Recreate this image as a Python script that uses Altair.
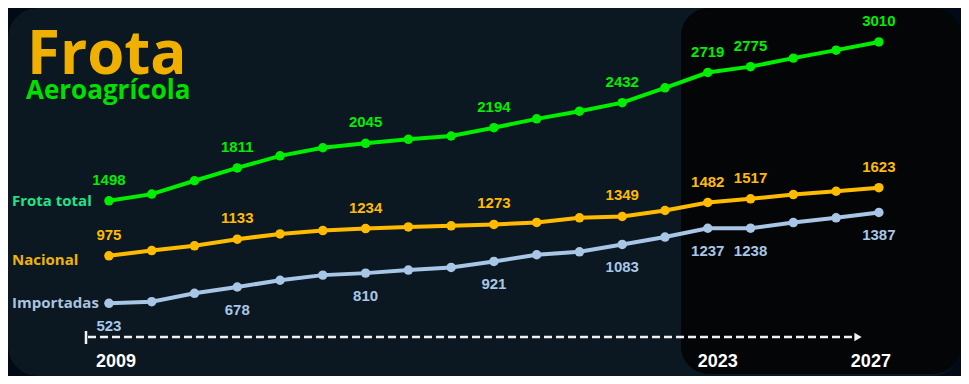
import altair as alt
import pandas as pd

years = list(range(2009, 2028))
frota_total = [1498, 1562, 1689, 1811, 1926, 2003, 2045, 2083, 2115, 2194,
               2278, 2351, 2432, 2573, 2719, 2775, 2856, 2932, 3010]
nacional = [975, 1025, 1070, 1133, 1183, 1215, 1234, 1250, 1260, 1273,
            1292, 1336, 1349, 1406, 1482, 1517, 1558, 1589, 1623]
importadas = [523, 538, 618, 678, 742, 791, 810, 839, 864, 921,
              985, 1013, 1083, 1153, 1237, 1238, 1291, 1336, 1387]
label_years = [2009, 2012, 2015, 2018, 2021, 2023, 2024, 2027]
axis_years = [2009, 2023, 2027]
series_names = ["Frota total", "Nacional", "Importadas"]

line_colors = ["#00ee00", "#ffbb00", "#a8c6e6"]
name_colors = ["#1fe587", "#f0b400", "#a9c4df"]

rows = []
for name, vals in zip(series_names, [frota_total, nacional, importadas]):
    for yr, v in zip(years, vals):
        rows.append({"year": yr, "value": v, "series": name,
                     "labeled": yr in label_years, "first": yr == years[0]})
df = pd.DataFrame(rows)
one = pd.DataFrame({"k": [0]})

W, H = 953, 368
xs = alt.Scale(domain=[2006.64, 2028.92], nice=False, zero=False)
ys = alt.Scale(domain=[-169, 3333], nice=False, zero=False)
X = alt.X("year:Q", scale=xs, axis=None)
Y = alt.Y("value:Q", scale=ys, axis=None)
line_color = alt.Color("series:N", scale=alt.Scale(domain=series_names, range=line_colors), legend=None)
name_color = alt.Color("series:N", scale=alt.Scale(domain=series_names, range=name_colors), legend=None)

panel = alt.Chart(one).mark_rect(color="#0b1721", cornerRadius=30).encode(
    x=alt.value(0), x2=alt.value(W), y=alt.value(0), y2=alt.value(H))
dark = alt.Chart(one).mark_rect(color="#030507", cornerRadius=28).encode(
    x=alt.value(673), x2=alt.value(W), y=alt.value(0), y2=alt.value(366))

title1 = alt.Chart(one).mark_text(text="Frota", font="Open Sans", fontWeight="bold",
                                  fontSize=60, color="#f0b000", align="left",
                                  baseline="alphabetic").encode(x=alt.value(19), y=alt.value(66))
title2 = alt.Chart(one).mark_text(text="Aeroagrícola", font="Open Sans", fontWeight="bold",
                                  fontSize=26, color="#00e000", align="left",
                                  baseline="alphabetic").encode(x=alt.value(18), y=alt.value(91))

lines = alt.Chart(df).mark_line(strokeWidth=4).encode(x=X, y=Y, color=line_color, detail="series:N")
points = alt.Chart(df).mark_circle(size=90, opacity=1).encode(x=X, y=Y, color=line_color)

lab_above = alt.Chart(df).transform_filter(
    "datum.labeled && datum.series != 'Importadas'").mark_text(
    font="Liberation Sans", fontWeight="bold", fontSize=15, dy=-21, baseline="middle").encode(
    x=X, y=Y, text="value:Q", color=line_color)
lab_below = alt.Chart(df).transform_filter(
    "datum.labeled && datum.series == 'Importadas'").mark_text(
    font="Liberation Sans", fontWeight="bold", fontSize=15, dy=23, baseline="middle").encode(
    x=X, y=Y, text="value:Q", color=line_color)

names_top = alt.Chart(df).transform_filter("datum.first && datum.series != 'Nacional'").mark_text(
    font="Open Sans", fontWeight="bold", fontSize=15, align="left", baseline="middle", dy=0).encode(
    x=alt.value(4), y=Y, text="series:N", color=name_color)
names_nac = alt.Chart(df).transform_filter("datum.first && datum.series == 'Nacional'").mark_text(
    font="Open Sans", fontWeight="bold", fontSize=15, align="left", baseline="middle", dy=4).encode(
    x=alt.value(4), y=Y, text="series:N", color=name_color)

dash = alt.Chart(one).mark_rule(color="#f2f2f2", strokeWidth=2.5, strokeDash=[8, 4]).encode(
    x=alt.value(80), x2=alt.value(848), y=alt.value(329))
tick = alt.Chart(one).mark_rule(color="#f2f2f2", strokeWidth=2.5).encode(
    x=alt.value(78), y=alt.value(323), y2=alt.value(336))
head = alt.Chart(one).mark_point(shape="triangle-right", filled=True, size=70,
                                 color="#f2f2f2", opacity=1).encode(
    x=alt.value(850), y=alt.value(329))

year_df = pd.DataFrame({"year": axis_years})
year_offsets = {2009: 7, 2023: 10, 2027: -8}
year_layers = []
for yr in axis_years:
    year_layers.append(
        alt.Chart(year_df).transform_filter(f"datum.year == {yr}").mark_text(
            font="Liberation Sans", fontWeight="bold", fontSize=18, color="white",
            baseline="middle", dx=year_offsets[yr]).encode(
            x=X, y=alt.value(353.5), text="year:Q"))

chart = alt.layer(panel, dark, title1, title2, lines, points, lab_above, lab_below,
                  names_top, names_nac, dash, tick, head, *year_layers).resolve_scale(
    color="independent").properties(
    width=W, height=H, padding=0,
    autosize=alt.AutoSizeParams(type="fit", contains="padding"),
    background="#020a18").configure_view(stroke=None)

chart.save("out.html", embed_options={"renderer": "svg", "actions": False})
